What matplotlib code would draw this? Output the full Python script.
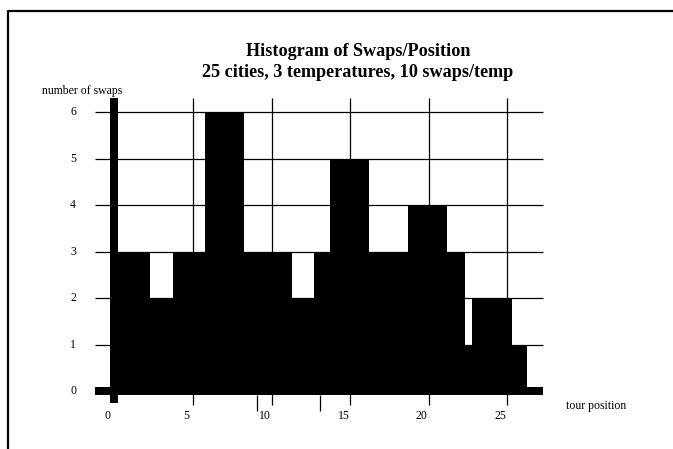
import matplotlib.pyplot as plt

plt.rcParams['font.family'] = ['Liberation Serif', 'DejaVu Serif']

# histogram outline (tour position edges / number of swaps)
edges = [0.0, 2.26, 3.73, 5.76, 8.25, 11.3, 12.7, 13.7, 16.2, 18.7, 21.2, 22.3, 22.8, 25.3, 26.3]
counts = [3, 2, 3, 6, 3, 2, 3, 5, 3, 4, 3, 1, 2, 1]

x_ticks = [0, 5, 10, 15, 20, 25]
y_ticks = [0, 1, 2, 3, 4, 5, 6]
x_grid = [5, 10, 15, 20, 25]
y_grid = [1, 2, 3, 4, 5, 6]
odd_ticks = [9.08, 13.1]

title = 'Histogram of Swaps/Position\n25 cities, 3 temperatures, 10 swaps/temp'

fig = plt.figure(figsize=(6.73, 4.49), dpi=100)
ax = fig.add_axes([0, 0, 1, 1])
ax.set_xlim(-7.293, 35.573)
ax.set_ylim(-1.247, 8.409)
ax.axis('off')

# grid
ax.hlines(y_grid, -1.24, 27.3, color='black', lw=0.9)
ax.vlines(x_grid, -0.30, 6.3, color='black', lw=0.9)
ax.vlines(odd_ticks, -0.43, -0.086, color='black', lw=0.9)

# bars
ax.stairs(counts, edges, fill=True, color='black', baseline=0)

# thick axes
ax.fill_between([-1.24, 27.3], -0.086, 0.086, color='black', lw=0)
ax.fill_betweenx([-0.26, 6.3], -0.29, 0.22, color='black', lw=0)

for v in y_ticks:
    ax.text(-2.64, v, str(v), ha='center', va='center', fontsize=8.5)
for t in x_ticks:
    ax.text(t - 0.42, -0.54, str(t), ha='center', va='center', fontsize=8.5)

ax.text(-2.07, 6.45, 'number of swaps', ha='center', va='center', fontsize=8.5)
ax.text(30.7, -0.32, 'tour position', ha='center', va='center', fontsize=8.5)

ax.text(15.5, 7.08, title, ha='center', va='center', fontsize=13.1,
        fontweight='bold', linespacing=1.35)

# page frame (top and left edges)
fig.add_artist(plt.Line2D([8 / 673, 8 / 673, 1.01], [-0.01, 438 / 449, 438 / 449],
                          color='black', lw=1.6, transform=fig.transFigure))

fig.savefig('out.png', dpi=100)
